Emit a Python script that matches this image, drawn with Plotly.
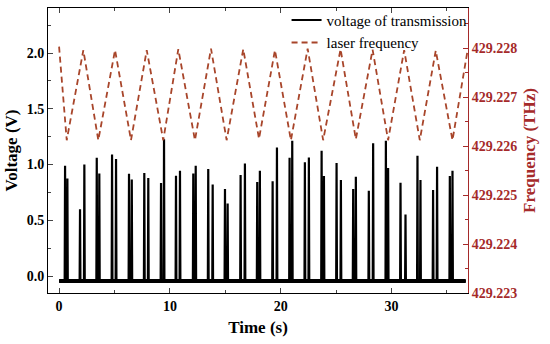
import plotly.graph_objects as go

# ---- data ----
spike_times = [0.54, 0.75, 1.89, 2.28, 3.40, 3.63, 4.78, 5.14, 6.31, 6.56,
               7.69, 8.05, 9.20, 9.47, 10.55, 10.91, 12.11, 12.33, 13.46, 13.86,
               14.97, 15.21, 16.38, 16.77, 17.88, 18.12, 19.27, 19.66, 20.80, 21.04,
               22.18, 22.54, 23.69, 23.90, 25.04, 25.43, 26.54, 26.78, 27.95, 28.34,
               29.49, 29.69, 30.81, 31.26, 32.34, 32.61, 33.75, 34.11, 35.26, 35.50]
spike_heights = [0.99, 0.876, 0.598, 1.0, 1.06, 0.92, 1.09, 1.05, 0.917, 0.867,
                 0.924, 0.88, 0.834, 1.226, 0.9, 0.945, 0.92, 0.99, 0.96, 0.82,
                 0.78, 0.65, 0.906, 1.01, 0.843, 0.945, 0.85, 1.154, 1.06, 1.214,
                 1.02, 1.064, 1.124, 0.897, 1.013, 0.861, 0.78, 0.89, 0.765, 1.19,
                 1.214, 0.97, 0.837, 0.553, 1.079, 0.861, 0.771, 0.98, 0.897, 0.945]
baseline_level = -0.045
time_start, time_end = 0.0, 36.7

freq_times = [0.0, 0.69, 2.19, 3.54, 5.05, 6.49, 7.91, 9.40, 10.76, 12.26,
              13.71, 15.12, 16.62, 18.04, 19.48, 20.92, 22.43, 23.83, 25.40, 26.78,
              28.29, 29.69, 31.14, 32.55, 33.99, 35.50, 36.88]
freq_values = [429.22803, 429.22612, 429.22796, 429.22612, 429.22796, 429.22612,
               429.22796, 429.22612, 429.22798, 429.22612, 429.22799, 429.22612,
               429.22798, 429.22615, 429.22796, 429.22612, 429.22799, 429.22612,
               429.22798, 429.22614, 429.22797, 429.22612, 429.22796, 429.22612,
               429.22795, 429.22612, 429.22798]

x_ticks = [0, 10, 20, 30]
y_ticks = [0.0, 0.5, 1.0, 1.5, 2.0]
y2_ticks = [429.223, 429.224, 429.225, 429.226, 429.227, 429.228]

# ---- build voltage trace from spikes ----
half_w = 0.035
vx, vy = [time_start], [baseline_level]
for t, h in zip(spike_times, spike_heights):
    vx += [t - half_w, t, t + half_w]
    vy += [baseline_level, h, baseline_level]
vx.append(time_end)
vy.append(baseline_level)

RED = "#A52A2A"
DASH = "#A8452A"
FONT = "Liberation Serif"

fig = go.Figure()
fig.add_trace(go.Scatter(x=[time_start, time_end], y=[baseline_level, baseline_level],
                         mode="lines", line=dict(color="black", width=4),
                         showlegend=False, hoverinfo="skip"))
fig.add_trace(go.Scatter(x=vx, y=vy, mode="lines", name="voltage of transmission",
                         line=dict(color="black", width=2.2)))
fig.add_trace(go.Scatter(x=freq_times, y=freq_values, mode="lines", name="laser frequency",
                         yaxis="y2", line=dict(color=DASH, width=1.8, dash="6px,4px")))

fig.update_layout(
    width=550, height=344,
    margin=dict(l=48, r=82, t=8, b=51, autoexpand=False),
    plot_bgcolor="white", paper_bgcolor="white",
    font=dict(family=FONT, size=14, color="black"),
    showlegend=True,
    legend=dict(x=0.568, y=1.015, xanchor="left", yanchor="top",
                bgcolor="rgba(0,0,0,0)", font=dict(family=FONT, size=15),
                tracegroupgap=0, itemwidth=30),
    xaxis=dict(range=[-1.0, 36.9], tickvals=x_ticks,
               ticktext=["<b>%d</b>" % v for v in x_ticks], automargin=False,
               ticks="inside", ticklen=5, tickwidth=1, showline=True, linecolor="black",
               linewidth=1, mirror="ticks", showgrid=False, zeroline=False,
               tickfont=dict(family=FONT, size=14),
               minor=dict(dtick=5, tick0=0, ticks="inside", ticklen=3, showgrid=False),
               title=dict(text="<b>Time (s)</b>", font=dict(family=FONT, size=17), standoff=8)),
    yaxis=dict(range=[-0.152, 2.404], tickvals=y_ticks, automargin=False,
               ticktext=["<b>%.1f</b>" % v for v in y_ticks],
               ticks="inside", ticklen=5, showline=True, linecolor="black", linewidth=1,
               mirror=True, showgrid=False, zeroline=False,
               tickfont=dict(family=FONT, size=14),
               minor=dict(dtick=0.25, tick0=0, ticks="inside", ticklen=3, showgrid=False),
               title=dict(text="<b>Voltage (V)</b>", font=dict(family=FONT, size=17), standoff=4)),
    yaxis2=dict(overlaying="y", side="right", range=[429.223, 429.22882], automargin=False,
                tickvals=y2_ticks, ticktext=["<b>%.3f</b>" % v for v in y2_ticks],
                ticks="inside", ticklen=5, tickcolor=RED, showline=True, linecolor=RED,
                linewidth=1, showgrid=False, zeroline=False,
                tickfont=dict(family=FONT, size=14, color=RED),
                minor=dict(dtick=0.0005, tick0=429.223, ticks="inside", ticklen=3,
                           tickcolor=RED, showgrid=False),
                title=dict(text="<b>Frequency (THz)</b>",
                           font=dict(family=FONT, size=17, color=RED), standoff=6)),
)

fig.write_html("out.html", config={"displayModeBar": False},
               post_script="document.body.style.margin='0';")
